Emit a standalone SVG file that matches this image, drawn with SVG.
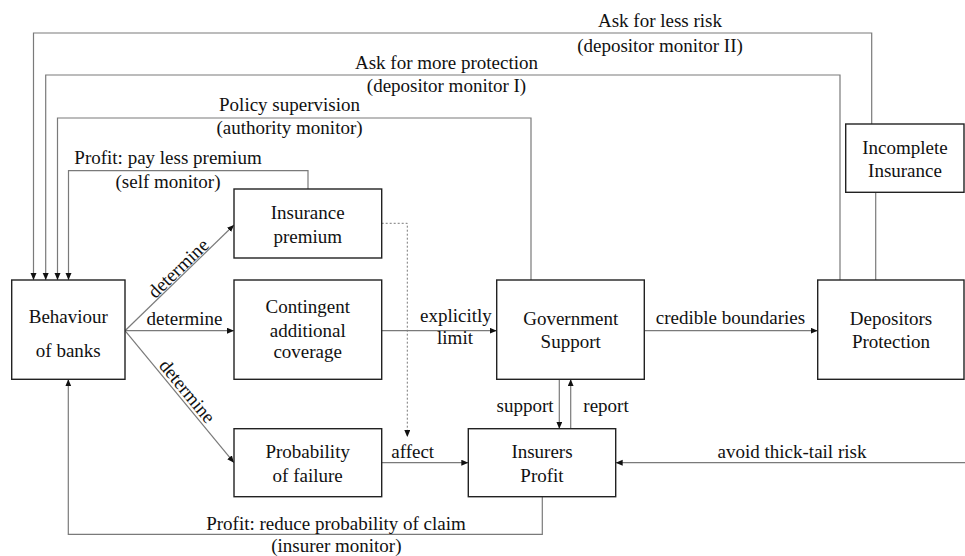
<svg xmlns="http://www.w3.org/2000/svg" width="965" height="556" viewBox="0 0 965 556" font-family="'Liberation Serif', 'Times New Roman', 'DejaVu Serif', serif">
<style>
text{font-family:'Liberation Serif','Times New Roman','DejaVu Serif',serif;font-size:19px;fill:#111;text-anchor:middle}
.box{fill:#fff;stroke:#222;stroke-width:1.4}
.c{fill:none;stroke:#7a7a7a;stroke-width:1.2}
.d{fill:none;stroke:#7a7a7a;stroke-width:1;stroke-dasharray:2,2}
</style>
<defs>
<marker id="ah" markerUnits="userSpaceOnUse" markerWidth="8" markerHeight="8" refX="7" refY="3" orient="auto">
<path d="M0,0 L7,3 L0,6 z" fill="#111"/>
</marker>
</defs>
<rect width="965" height="556" fill="#fff"/>
<g id="connectors">
<polyline class="c" points="871.7,124 871.7,33 33.5,33 33.5,280" marker-end="url(#ah)"/>
<polyline class="c" points="840,280 840,75 45.7,75 45.7,280" marker-end="url(#ah)"/>
<polyline class="c" points="531,280 531,118 57.5,118 57.5,280" marker-end="url(#ah)"/>
<polyline class="c" points="308,189 308,170.7 68.5,170.7 68.5,280" marker-end="url(#ah)"/>
<line class="c" x1="125" y1="330.7" x2="234" y2="225" marker-end="url(#ah)"/>
<line class="c" x1="125" y1="330.7" x2="234" y2="330.7" marker-end="url(#ah)"/>
<line class="c" x1="125" y1="330.7" x2="234" y2="462.7" marker-end="url(#ah)"/>
<polyline class="d" points="381.7,223.3 407.3,223.3 407.3,437" marker-end="url(#ah)"/>
<line class="c" x1="381.7" y1="330.7" x2="496.7" y2="330.7" marker-end="url(#ah)"/>
<line class="c" x1="381.7" y1="462.7" x2="468.3" y2="462.7" marker-end="url(#ah)"/>
<line class="c" x1="644.3" y1="330.7" x2="817.7" y2="330.7" marker-end="url(#ah)"/>
<line class="c" x1="559.3" y1="379.3" x2="559.3" y2="428.7" marker-end="url(#ah)"/>
<line class="c" x1="570.7" y1="428.7" x2="570.7" y2="379.3" marker-end="url(#ah)"/>
<line class="c" x1="965" y1="462.7" x2="615.7" y2="462.7" marker-end="url(#ah)"/>
<polyline class="c" points="542.3,496.7 542.3,534.3 68.3,534.3 68.3,379.3" marker-end="url(#ah)"/>
<line class="c" x1="875.7" y1="192.3" x2="875.7" y2="280"/>
<text x="660" y="27">Ask for less risk</text>
<text x="660" y="51.5">(depositor monitor II)</text>
<text x="446.5" y="69">Ask for more protection</text>
<text x="446.5" y="92">(depositor monitor I)</text>
<text x="289.5" y="111">Policy supervision</text>
<text x="289.5" y="134">(authority monitor)</text>
<text x="168" y="164">Profit: pay less premium</text>
<text x="168" y="187.5">(self monitor)</text>
<text transform="translate(178.5,268.5) rotate(-44)" y="6">determine</text>
<text x="184.5" y="325">determine</text>
<text transform="translate(187,391.5) rotate(50.5)" y="6">determine</text>
<text x="456" y="321.5">explicitly</text>
<text x="455" y="344">limit</text>
<text x="412.7" y="458.3">affect</text>
<text x="730.5" y="324">credible boundaries</text>
<text x="525" y="411.7">support</text>
<text x="606" y="411.7">report</text>
<text x="792" y="458.3">avoid thick-tail risk</text>
<text x="336" y="530">Profit: reduce probability of claim</text>
<text x="336.3" y="551.7">(insurer monitor)</text>
</g>
<g id="behaviour">
<rect class="box" x="11.7" y="280" width="113.3" height="99.3"/>
<text x="68.3" y="323.3">Behaviour</text>
<text x="68.3" y="357.3">of banks</text>
</g>
<g id="insurance-premium">
<rect class="box" x="234" y="189" width="147.7" height="69"/>
<text x="307.7" y="219">Insurance</text>
<text x="307.7" y="243">premium</text>
</g>
<g id="contingent">
<rect class="box" x="234" y="280" width="147.7" height="99.3"/>
<text x="307.7" y="313.3">Contingent</text>
<text x="307.7" y="336.7">additional</text>
<text x="307.7" y="358.3">coverage</text>
</g>
<g id="probability">
<rect class="box" x="234" y="428.7" width="147.7" height="68"/>
<text x="307.7" y="458.3">Probability</text>
<text x="307.7" y="481.7">of failure</text>
</g>
<g id="government">
<rect class="box" x="496.7" y="280" width="147.6" height="99.3"/>
<text x="570.7" y="325">Government</text>
<text x="570.7" y="348.3">Support</text>
</g>
<g id="insurers">
<rect class="box" x="468.3" y="428.7" width="147.4" height="68"/>
<text x="542" y="458.3">Insurers</text>
<text x="542" y="481.7">Profit</text>
</g>
<g id="depositors">
<rect class="box" x="817.7" y="280" width="146.3" height="99.3"/>
<text x="891" y="325">Depositors</text>
<text x="891" y="348.3">Protection</text>
</g>
<g id="incomplete">
<rect class="box" x="845.7" y="124" width="118.3" height="68.3"/>
<text x="905" y="154">Incomplete</text>
<text x="905" y="176.7">Insurance</text>
</g>
</svg>
